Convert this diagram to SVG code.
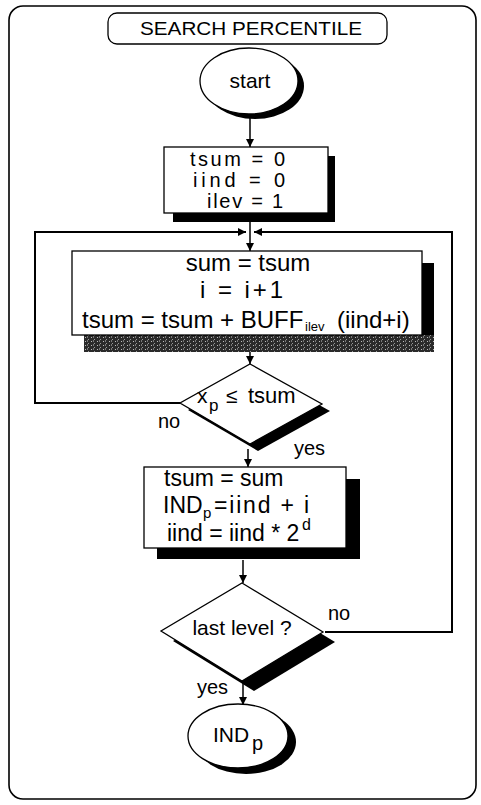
<svg xmlns="http://www.w3.org/2000/svg" width="481" height="805" viewBox="0 0 481 805">
  <style>
    .t { font-family: "Liberation Sans", Arial, Helvetica, sans-serif; fill: #000; }
    .frame { fill: #fff; stroke: #000; stroke-width: 1.6; }
    .node { fill: #fff; stroke: #000; stroke-width: 1.3; }
    .sh { fill: #000; }
    .wire { fill: none; stroke: #000; stroke-width: 2; }
    .arrow { fill: none; stroke: #000; stroke-width: 1.5; }
  </style>
  <defs>
    <marker id="ah" viewBox="0 0 10 10" refX="10" refY="5" markerWidth="9" markerHeight="8" orient="auto" markerUnits="userSpaceOnUse">
      <path d="M0,0 L10,5 L0,10 z" fill="#000"/>
    </marker>
    <pattern id="grain" width="6" height="4" patternUnits="userSpaceOnUse">
      <rect width="6" height="4" fill="#2a2a2a"/>
      <rect x="1" y="1" width="1" height="1" fill="#bbb"/>
      <rect x="4" y="3" width="1" height="1" fill="#999"/>
      <rect x="3" y="0" width="1" height="2" fill="#777"/>
    </pattern>
  </defs>

  <!-- page frame -->
  <rect class="frame" x="9" y="6" width="467" height="793" rx="14"/>

  <!-- title -->
  <g id="title">
    <rect class="node" x="108" y="13" width="279" height="31" rx="9"/>
    <text class="t" x="251" y="35" font-size="19" text-anchor="middle" textLength="222" lengthAdjust="spacingAndGlyphs">SEARCH PERCENTILE</text>
  </g>

  <!-- connectors -->
  <g id="connectors">
    <path class="arrow" d="M250,114 V147" marker-end="url(#ah)"/>
    <path class="arrow" d="M250,222 V251" marker-end="url(#ah)"/>
    <path class="wire" d="M180,403 H35 V232 H246" marker-end="url(#ah)"/>
    <path class="wire" d="M325,632 H452 V232 H254" marker-end="url(#ah)"/>
    <path class="arrow" d="M250,352 V364" marker-end="url(#ah)"/>
    <path class="arrow" d="M248,449 V467" marker-end="url(#ah)"/>
    <path class="arrow" d="M243,560 V583" marker-end="url(#ah)"/>
    <path class="arrow" d="M243,682 V705" marker-end="url(#ah)"/>
  </g>

  <!-- start terminal -->
  <g id="start">
    <ellipse class="sh" cx="255" cy="86" rx="49" ry="33"/>
    <ellipse class="node" cx="249" cy="81" rx="49" ry="33"/>
    <text class="t" x="250" y="88" font-size="21" text-anchor="middle">start</text>
  </g>

  <!-- initialisation -->
  <g id="init">
    <rect class="sh" x="173" y="156" width="162" height="66"/>
    <rect class="node" x="164" y="147" width="164" height="66"/>
    <text class="t" x="190" y="166" font-size="20" textLength="95" lengthAdjust="spacing">tsum = 0</text>
    <text class="t" x="193" y="187" font-size="20" textLength="92" lengthAdjust="spacing">iind = 0</text>
    <text class="t" x="207" y="208" font-size="20" textLength="76" lengthAdjust="spacing">ilev = 1</text>
  </g>

  <!-- accumulate -->
  <g id="accumulate">
    <rect class="sh" x="422" y="263" width="12" height="89"/>
    <rect x="84" y="335" width="350" height="17" fill="url(#grain)"/>
    <rect class="node" x="72" y="251" width="350" height="84"/>
    <text class="t" x="248" y="271" font-size="24" text-anchor="middle">sum = tsum</text>
    <text class="t" x="200" y="298" font-size="24" textLength="83" lengthAdjust="spacing">i = i+1</text>
    <text class="t" x="82" y="328" font-size="24">tsum = tsum + BUFF</text>
    <text class="t" x="305" y="331" font-size="13">ilev</text>
    <text class="t" x="337" y="328" font-size="24">(iind+i)</text>
  </g>

  <!-- test x_p <= tsum -->
  <g id="test-percentile">
    <polygon class="sh" points="258,371 330,411 258,451 188,410"/>
    <polygon class="node" points="250,364 322,404 250,444 180,403"/>
    <text class="t" x="197" y="403" font-size="21">x</text>
    <text class="t" x="209" y="411" font-size="17">p</text>
    <text class="t" x="226" y="403" font-size="21">≤</text>
    <text class="t" x="248" y="403" font-size="22">tsum</text>
    <text class="t" x="158" y="428" font-size="20">no</text>
    <text class="t" x="294" y="455" font-size="20">yes</text>
  </g>

  <!-- store result -->
  <g id="store">
    <rect class="sh" x="157" y="479" width="203" height="80"/>
    <rect class="node" x="144" y="467" width="202" height="81"/>
    <text class="t" x="164" y="486" font-size="23">tsum = sum</text>
    <text class="t" x="163" y="513" font-size="23">IND</text>
    <text class="t" x="203" y="518" font-size="15">p</text>
    <text class="t" x="214" y="513" font-size="23" textLength="95" lengthAdjust="spacing">=iind + i</text>
    <text class="t" x="167" y="541" font-size="23">iind = iind * 2</text>
    <text class="t" x="302" y="530" font-size="16">d</text>
  </g>

  <!-- test last level -->
  <g id="test-level">
    <polygon class="sh" points="254,593 335,642 254,691 173,641"/>
    <polygon class="node" points="242,583 323,632 242,681 161,631"/>
    <text class="t" x="242" y="635" font-size="21" text-anchor="middle">last level ?</text>
    <text class="t" x="328" y="620" font-size="20">no</text>
    <text class="t" x="197" y="694" font-size="20">yes</text>
  </g>

  <!-- end terminal -->
  <g id="end">
    <ellipse class="sh" cx="246" cy="742" rx="50" ry="32"/>
    <ellipse class="node" cx="238" cy="736" rx="50" ry="32"/>
    <text class="t" x="213" y="742" font-size="21">IND</text>
    <text class="t" x="252" y="750" font-size="20">p</text>
  </g>
</svg>
